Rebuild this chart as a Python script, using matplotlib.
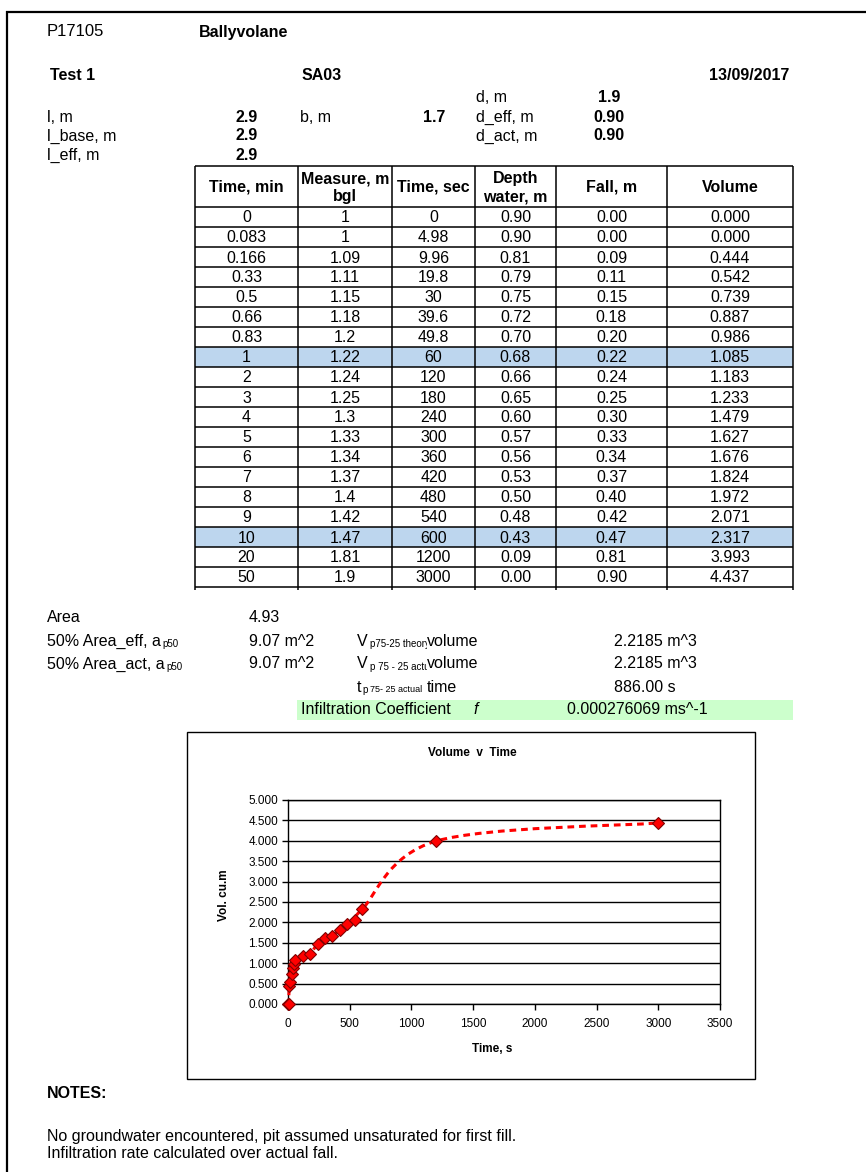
import matplotlib
matplotlib.use("Agg")
import matplotlib.pyplot as plt
from matplotlib.lines import Line2D
from matplotlib.patches import Rectangle, PathPatch
from matplotlib.path import Path
import numpy as np

# ---------------- data ----------------
time_min = ['0', '0.083', '0.166', '0.33', '0.5', '0.66', '0.83', '1', '2', '3', '4',
            '5', '6', '7', '8', '9', '10', '20', '50']
measure = ['1', '1', '1.09', '1.11', '1.15', '1.18', '1.2', '1.22', '1.24', '1.25', '1.3',
           '1.33', '1.34', '1.37', '1.4', '1.42', '1.47', '1.81', '1.9']
time_sec = [0, 4.98, 9.96, 19.8, 30, 39.6, 49.8, 60, 120, 180, 240, 300, 360, 420, 480,
            540, 600, 1200, 3000]
depth_water = ['0.90', '0.90', '0.81', '0.79', '0.75', '0.72', '0.70', '0.68', '0.66', '0.65',
               '0.60', '0.57', '0.56', '0.53', '0.50', '0.48', '0.43', '0.09', '0.00']
fall = ['0.00', '0.00', '0.09', '0.11', '0.15', '0.18', '0.20', '0.22', '0.24', '0.25', '0.30',
        '0.33', '0.34', '0.37', '0.40', '0.42', '0.47', '0.81', '0.90']
volume = [0.000, 0.000, 0.444, 0.542, 0.739, 0.887, 0.986, 1.085, 1.183, 1.233, 1.479,
          1.627, 1.676, 1.824, 1.972, 2.071, 2.317, 3.993, 4.437]
highlight_rows = ['1', '10']
col_headers = ['Time, min', 'Measure, m\nbgl', 'Time, sec', 'Depth\nwater, m', 'Fall, m', 'Volume']
y_ticks = [0, 0.5, 1.0, 1.5, 2.0, 2.5, 3.0, 3.5, 4.0, 4.5, 5.0]
x_ticks = [0, 500, 1000, 1500, 2000, 2500, 3000, 3500]

# ---------------- figure ----------------
W, H = 866, 1172
fig = plt.figure(figsize=(W / 100, H / 100), dpi=100)
plt.rcParams['font.family'] = ['Liberation Sans', 'DejaVu Sans']
FS = 11.5
renderer = fig.canvas.get_renderer()


def fx(x):
    return x / W


def fy(y):
    return 1 - y / H


def T(x, y, s, ha='left', va='center', size=FS, weight='normal', **kw):
    return fig.text(fx(x), fy(y), s, ha=ha, va=va, fontsize=size, fontweight=weight, **kw)


def right_edge(t):
    return t.get_window_extent(renderer=renderer).x1


def L(x0, y0, x1, y1, lw=1.0, color='black'):
    fig.add_artist(Line2D([fx(x0), fx(x1)], [fy(y0), fy(y1)], transform=fig.transFigure,
                          color=color, lw=lw, solid_capstyle='butt'))


# page border
L(6, 12, 866, 12, lw=1.6)
L(7, 11, 7, 1172, lw=1.6)

# header block
T(47, 32, 'P17105', size=12)
T(199, 33, 'Ballyvolane', weight='bold')
T(50, 75, 'Test 1', weight='bold')
T(302, 75, 'SA03', weight='bold')
T(789, 75, '13/09/2017', ha='right', weight='bold')

T(476, 97, 'd, m')
T(609, 97, '1.9', ha='center', weight='bold')
T(47, 117, 'l, m')
T(258, 117, '2.9', ha='right', weight='bold')
T(300, 117, 'b, m')
T(445, 117, '1.7', ha='right', weight='bold')
T(476, 117, 'd_eff, m')
T(609, 117, '0.90', ha='center', weight='bold')
T(47, 136, 'l_base, m')
T(258, 136, '2.9', ha='right', weight='bold')
T(476, 136, 'd_act, m')
T(609, 136, '0.90', ha='center', weight='bold')
T(47, 155, 'l_eff, m')
T(258, 155, '2.9', ha='right', weight='bold')

# ---------------- table ----------------
cols = [195, 298, 392, 475, 556, 667, 793]
top, hdr_bot, rh = 166, 207, 20
nrows = len(time_min)
bottom = hdr_bot + nrows * rh

for i, tm in enumerate(time_min):
    if tm in highlight_rows:
        fig.add_artist(Rectangle((fx(cols[0]), fy(hdr_bot + (i + 1) * rh)),
                                 (cols[-1] - cols[0]) / W, rh / H,
                                 transform=fig.transFigure, facecolor='#BDD6EE',
                                 edgecolor='none'))

for c, h in enumerate(col_headers):
    cx = (cols[c] + cols[c + 1]) / 2
    T(cx, (top + hdr_bot) / 2 + 1, h, ha='center', weight='bold', linespacing=1.25)

rows_cols = [time_min, measure, [f"{v:g}" for v in time_sec], depth_water, fall,
             [f"{v:.3f}" for v in volume]]
for c, colvals in enumerate(rows_cols):
    cx = (cols[c] + cols[c + 1]) / 2
    for i, s in enumerate(colvals):
        T(cx, hdr_bot + i * rh + rh / 2 + 1, s, ha='center')

LW = 1.1
L(cols[0], top, cols[-1], top, lw=LW)
L(cols[0], hdr_bot, cols[-1], hdr_bot, lw=LW)
for i in range(1, nrows + 1):
    L(cols[0], hdr_bot + i * rh, cols[-1], hdr_bot + i * rh, lw=LW)
for x in cols:
    L(x, top, x, bottom + 3, lw=LW)

# ---------------- results block ----------------
SUB = 7
T(47, 617, 'Area')
T(249, 617, '4.93')
t1 = T(47, 641, '50% Area_eff, a')
T(right_edge(t1) + 1.5, 644, 'p50', size=SUB)
T(249, 641, '9.07 m^2')
t2 = T(47, 664, '50% Area_act, a')
T(right_edge(t2) + 1.5, 667, 'p50', size=SUB)
T(249, 664, '9.07 m^2')

WB = dict(facecolor='white', edgecolor='none', pad=0)
tv = T(357, 641, 'V')
T(right_edge(tv) + 2, 644, 'p75-25 theory', size=SUB)
T(427, 641, 'volume', bbox=WB)
T(614, 641, '2.2185 m^3')
tv = T(357, 664, 'V')
T(right_edge(tv) + 2, 667, 'p 75 - 25 actu', size=SUB)
T(427, 664, 'volume', bbox=WB)
T(614, 664, '2.2185 m^3')
tt = T(357, 687, 't')
tp = T(right_edge(tt) + 0.5, 690, 'p', size=SUB)
T(right_edge(tp) + 3, 690, '75- 25 actual', size=SUB - 0.5)
T(427, 687, 'time', bbox=WB)
T(614, 687, '886.00 s')

fig.add_artist(Rectangle((fx(297), fy(720)), (793 - 297) / W, 20 / H,
                         transform=fig.transFigure, facecolor='#CCFFCC', edgecolor='none'))
T(301, 710, 'Infiltration Coefficient')
T(473, 710, 'f', style='italic')
T(567, 710, '0.000276069 ms^-1')

# ---------------- chart ----------------
box = Rectangle((fx(187), fy(1079)), (755 - 187) / W, (1079 - 732) / H,
                transform=fig.transFigure, facecolor='white', edgecolor='black', lw=1.0,
                zorder=-5)
fig.add_artist(box)
T(472, 753, 'Volume  v  Time', ha='center', size=8.5, weight='bold')
T(492, 1049, 'Time, s', ha='center', size=8.5, weight='bold')
T(224, 895, 'Vol. cu.m', ha='center', size=8.5, weight='bold', rotation=90)

ax = fig.add_axes([fx(288), fy(1004), (720 - 288) / W, (1004 - 800) / H])
ax.set_zorder(5)
ax.set_xlim(0, 3500)
ax.set_ylim(0, 5)
ax.set_yticks(y_ticks)
ax.set_xticks(x_ticks)
ax.set_yticklabels([f"{v:.3f}" for v in y_ticks], fontsize=8.5)
ax.set_xticklabels([str(v) for v in x_ticks], fontsize=8.5)
ax.yaxis.grid(True, color='black', lw=1.0)
ax.set_axisbelow(True)
for s in ax.spines.values():
    s.set_color('black')
    s.set_linewidth(1.0)
ax.tick_params(direction='out', length=4, width=1.0, pad=3, colors='black')
ax.tick_params(axis='x', pad=6)

# smoothed (Catmull-Rom / Bezier) line through the data, like Excel's smoothed line
xs = np.array(time_sec, dtype=float)
ys = np.array(volume, dtype=float)
n = len(xs)
verts = [(xs[0], ys[0])]
codes = [Path.MOVETO]
for i in range(n - 1):
    p0 = np.array([xs[max(i - 1, 0)], ys[max(i - 1, 0)]])
    p1 = np.array([xs[i], ys[i]])
    p2 = np.array([xs[i + 1], ys[i + 1]])
    p3 = np.array([xs[min(i + 2, n - 1)], ys[min(i + 2, n - 1)]])
    c1 = p1 + (p2 - p0) / 6.0
    c2 = p2 - (p3 - p1) / 6.0
    verts += [tuple(c1), tuple(c2), tuple(p2)]
    codes += [Path.CURVE4] * 3
ax.add_patch(PathPatch(Path(verts, codes), fill=False, edgecolor='red', lw=2.2,
                       linestyle=(0, (2.2, 1.6)), clip_on=False, zorder=3))
ax.plot(xs, ys, 'D', ms=6.5, mfc='red', mec='#7F0000', mew=0.8, clip_on=False, zorder=4)

# ---------------- notes ----------------
T(47, 1094, 'NOTES:', weight='bold')
T(47, 1136, 'No groundwater encountered, pit assumed unsaturated for first fill.')
T(47, 1153, 'Infiltration rate calculated over actual fall.')

fig.savefig('out.png', dpi=100)
